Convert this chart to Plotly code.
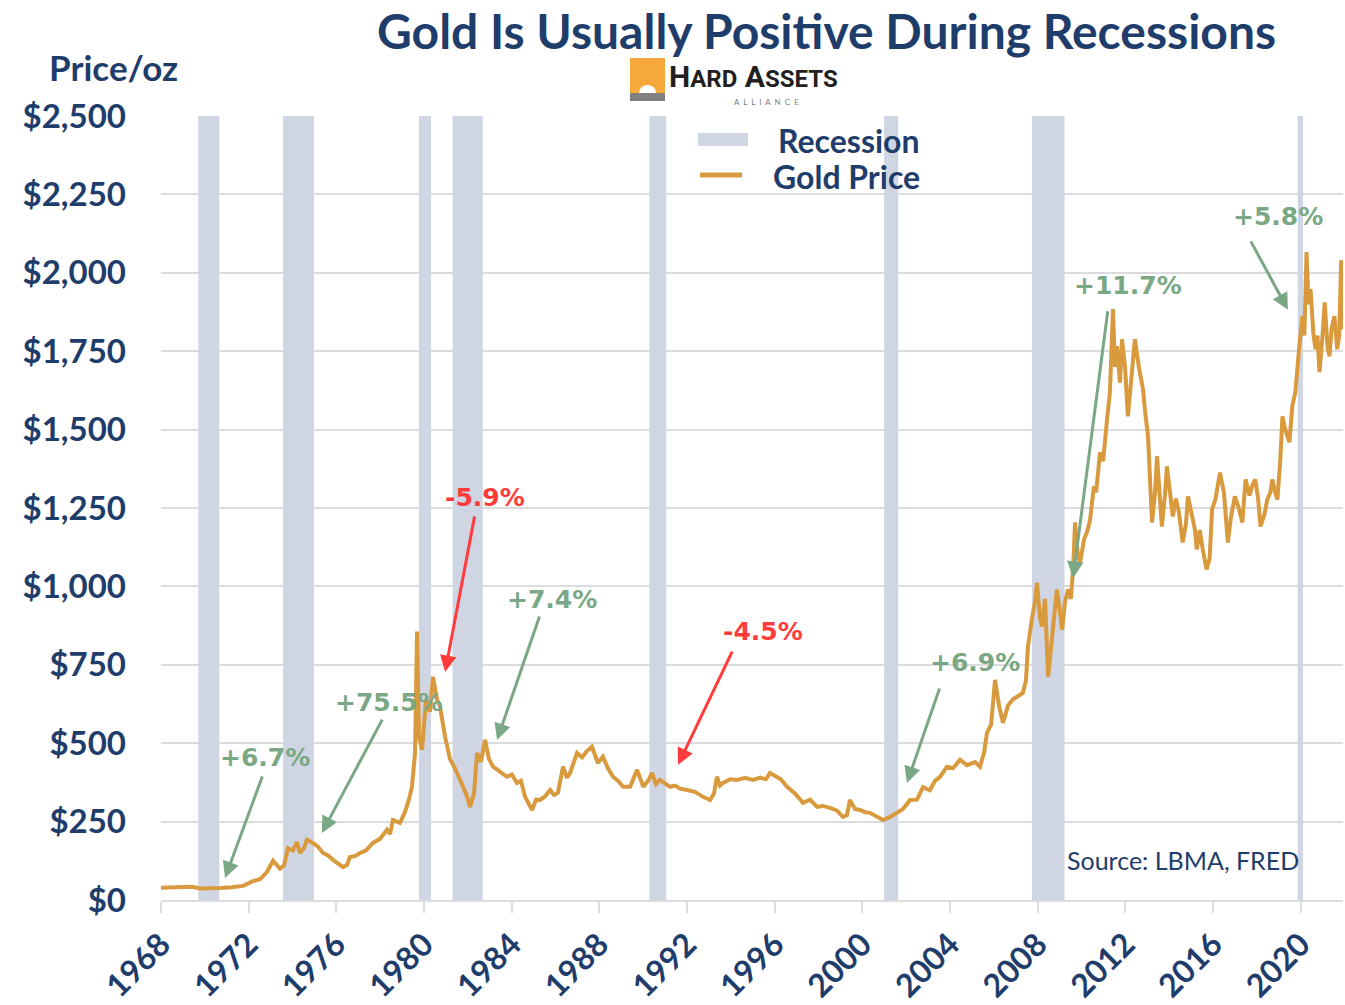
import plotly.graph_objects as go

# ---------------- data ----------------
# chart-time (decimal year on the chart's axis) and LBMA gold price, $/oz
gold_t = [1968.00, 1968.50, 1969.00, 1969.41, 1969.78, 1970.24, 1970.69, 1971.24, 1971.74, 1972.20,
          1972.52, 1972.84, 1973.11, 1973.43, 1973.61, 1973.79, 1974.02, 1974.20, 1974.34, 1974.52,
          1974.66, 1974.93, 1975.16, 1975.39, 1975.62, 1975.85, 1976.07, 1976.30, 1976.49, 1976.62,
          1976.85, 1977.08, 1977.35, 1977.67, 1977.99, 1978.31, 1978.45, 1978.58, 1978.90, 1979.13,
          1979.31, 1979.45, 1979.59, 1979.68, 1979.77, 1979.91, 1980.09, 1980.27, 1980.41, 1980.59,
          1980.73, 1980.96, 1981.18, 1981.41, 1981.78, 1981.96, 1982.10, 1982.28, 1982.42, 1982.60,
          1982.78, 1982.96, 1983.15, 1983.47, 1983.78, 1984.01, 1984.24, 1984.42, 1984.61, 1984.93,
          1985.11, 1985.29, 1985.52, 1985.75, 1985.93, 1986.11, 1986.34, 1986.52, 1986.66, 1986.98,
          1987.21, 1987.43, 1987.66, 1987.93, 1988.16, 1988.39, 1988.62, 1988.85, 1989.08, 1989.40,
          1989.72, 1990.00, 1990.22, 1990.40, 1990.58, 1990.76, 1990.99, 1991.22, 1991.45, 1991.68,
          1992.00, 1992.36, 1992.73, 1993.05, 1993.23, 1993.36, 1993.50, 1993.64, 1993.96, 1994.28,
          1994.64, 1995.01, 1995.33, 1995.60, 1995.78, 1996.01, 1996.28, 1996.56, 1996.92, 1997.29,
          1997.61, 1997.93, 1998.20, 1998.52, 1998.84, 1999.11, 1999.29, 1999.43, 1999.66, 1999.89,
          2000.12, 2000.34, 2000.66, 2000.94, 2001.26, 2001.58, 2001.85, 2002.17, 2002.49, 2002.76,
          2003.08, 2003.31, 2003.54, 2003.86, 2004.13, 2004.45, 2004.77, 2005.14, 2005.36, 2005.55,
          2005.68, 2005.87, 2006.05, 2006.23, 2006.41, 2006.64, 2006.87, 2007.05, 2007.32, 2007.46,
          2007.55, 2007.74, 2007.87, 2007.96, 2008.10, 2008.19, 2008.33, 2008.47, 2008.60, 2008.74,
          2008.87, 2009.01, 2009.11, 2009.24, 2009.38, 2009.51, 2009.61, 2009.70, 2009.83, 2009.93,
          2010.11, 2010.24, 2010.38, 2010.56, 2010.66, 2010.84, 2010.98, 2011.16, 2011.29, 2011.43,
          2011.52, 2011.61, 2011.75, 2011.84, 2011.98, 2012.11, 2012.25, 2012.43, 2012.61, 2012.80,
          2012.89, 2013.03, 2013.21, 2013.35, 2013.44, 2013.57, 2013.66, 2013.80, 2013.89, 2014.03,
          2014.16, 2014.30, 2014.43, 2014.61, 2014.76, 2014.85, 2015.04, 2015.17, 2015.25, 2015.39,
          2015.52, 2015.70, 2015.84, 2015.95, 2016.11, 2016.31, 2016.49, 2016.67, 2016.81, 2016.99,
          2017.17, 2017.33, 2017.48, 2017.66, 2017.78, 2017.92, 2018.05, 2018.16, 2018.34, 2018.47,
          2018.61, 2018.70, 2018.83, 2018.93, 2019.06, 2019.16, 2019.29, 2019.48, 2019.61, 2019.75,
          2019.93, 2020.07, 2020.16, 2020.26, 2020.35, 2020.44, 2020.58, 2020.67, 2020.76, 2020.85,
          2020.99, 2021.09, 2021.22, 2021.31, 2021.40, 2021.53, 2021.66, 2021.75, 2021.84, 2021.92]
gold_price = [39, 41, 43, 42, 37, 36, 38, 41, 45, 60,
              66, 90, 125, 100, 110, 165, 158, 185, 150, 165,
              192, 182, 170, 150, 142, 128, 118, 105, 112, 137,
              140, 150, 158, 182, 195, 224, 210, 255, 246, 280,
              320, 361, 469, 856, 520, 479, 640, 600, 712, 640,
              616, 520, 450, 420, 361, 330, 297, 340, 469, 440,
              511, 450, 425, 410, 393, 400, 373, 380, 329, 287,
              320, 319, 330, 351, 335, 342, 425, 390, 405, 469,
              455, 475, 489, 437, 457, 420, 393, 380, 361, 361,
              415, 361, 380, 405, 370, 383, 370, 361, 365, 355,
              351, 345, 329, 319, 340, 393, 365, 373, 385, 383,
              390, 383, 390, 385, 405, 395, 385, 361, 340, 310,
              320, 297, 300, 294, 285, 265, 270, 319, 290, 287,
              280, 278, 265, 255, 265, 278, 290, 319, 320, 360,
              350, 380, 393, 425, 420, 447, 430, 440, 425, 470,
              533, 560, 702, 620, 565, 620, 640, 648, 660, 700,
              808, 900, 950, 1012, 900, 872, 960, 712, 800, 900,
              990, 920, 862, 950, 990, 960, 1054, 1204, 1100, 1076,
              1150, 1172, 1210, 1319, 1300, 1427, 1400, 1533, 1619, 1884,
              1700, 1766, 1650, 1788, 1700, 1542, 1650, 1788, 1700, 1628,
              1560, 1478, 1204, 1300, 1415, 1300, 1191, 1290, 1383, 1300,
              1223, 1280, 1240, 1140, 1200, 1287, 1230, 1180, 1118, 1180,
              1120, 1054, 1090, 1245, 1280, 1363, 1300, 1140, 1220, 1287,
              1250, 1204, 1341, 1290, 1320, 1341, 1280, 1191, 1230, 1277,
              1300, 1341, 1300, 1277, 1400, 1542, 1500, 1459, 1574, 1620,
              1766, 1862, 1800, 2066, 1900, 1948, 1800, 1756, 1800, 1683,
              1800, 1906, 1760, 1734, 1820, 1862, 1756, 1800, 2040, 1820]

# recessions (chart-time start, end)
rec_start = [1969.70, 1973.57, 1979.77, 1981.30, 1990.28, 2000.99, 2007.73, 2019.86]
rec_end = [1970.66, 1974.98, 1980.32, 1982.68, 1991.05, 2001.63, 2009.22, 2020.10]

# annotations: label, tip (x, y), tail (x, y), label centre (x, y), colour
ann_label = ["+6.7%", "+75.5%", "-5.9%", "+7.4%", "-4.5%", "+6.9%", "+11.7%", "+5.8%"]
ann_tip_x = [1970.92, 1975.34, 1980.96, 1983.33, 1991.59, 2002.03, 2009.61, 2019.41]
ann_tip_y = [70, 214, 727, 510, 431, 373, 1027, 1882]
ann_tail_x = [1972.65, 1978.13, 1982.32, 1985.29, 1994.09, 2003.54, 2011.20, 2017.68]
ann_tail_y = [399, 580, 1228, 909, 797, 679, 1882, 2105]
ann_text_x = [1972.74, 1978.40, 1982.78, 1985.84, 1995.46, 2005.13, 2012.12, 2018.96]
ann_text_y = [453, 631, 1285, 957, 855, 756, 1958, 2181]
ann_positive = [True, True, False, True, False, True, True, True]

x_ticks = list(range(1968, 2021, 4))
y_ticks = [0, 250, 500, 750, 1000, 1250, 1500, 1750, 2000, 2250, 2500]

# ---------------- styling ----------------
NAVY = "#1f3d6b"
GOLD = "#d99a3e"
BAND = "#d0d5e3"
GRID = "#dcdcdc"
GREEN = "#7aa884"
RED = "#ff3b3b"
FONT = "Lato, 'Open Sans', sans-serif"
ANNFONT = "'DejaVu Sans', Verdana, sans-serif"

W, H = 1345, 1005
PL, PR, PT, PB = 161, 1343, 116, 900   # plot area in page pixels
X0 = 1968.0
X1 = X0 + (PR - PL) / 21.92


def px(xp):
    return (xp - PL) / (PR - PL)


def py(yp):
    return (PB - yp) / (PB - PT)


fig = go.Figure()

fig.add_trace(go.Scatter(x=gold_t, y=gold_price, mode="lines",
                         line=dict(color=GOLD, width=4), name="Gold Price",
                         showlegend=False, hoverinfo="skip"))

shapes = []
for s, e in zip(rec_start, rec_end):
    shapes.append(dict(type="rect", xref="x", yref="y", x0=s, x1=e, y0=0, y1=2500,
                       fillcolor=BAND, line=dict(width=0), layer="between"))

# legend (manual)
shapes.append(dict(type="rect", xref="paper", yref="paper", x0=px(698), x1=px(748),
                   y0=py(146), y1=py(133), fillcolor=BAND, line=dict(width=0)))
shapes.append(dict(type="line", xref="paper", yref="paper", x0=px(700), x1=px(742),
                   y0=py(175), y1=py(175), line=dict(color=GOLD, width=5)))

# logo
shapes.append(dict(type="rect", xref="paper", yref="paper", x0=px(630), x1=px(665),
                   y0=py(93), y1=py(58), fillcolor="#f7a83a", line=dict(width=0)))
shapes.append(dict(type="circle", xref="paper", yref="paper", x0=px(639), x1=px(656),
                   y0=py(101), y1=py(85), fillcolor="white", line=dict(width=0)))
shapes.append(dict(type="rect", xref="paper", yref="paper", x0=px(630), x1=px(665),
                   y0=py(101), y1=py(93), fillcolor="#808080", line=dict(width=0)))

annotations = []
annotations.append(dict(text="<b>Gold Is Usually Positive During Recessions</b>",
                        xref="paper", yref="paper", x=px(826), y=py(30),
                        xanchor="center", yanchor="middle", showarrow=False,
                        font=dict(family=FONT, size=48, color=NAVY)))
annotations.append(dict(text="<b>Price/oz</b>", xref="paper", yref="paper",
                        x=px(113), y=py(67), xanchor="center", yanchor="middle",
                        showarrow=False, font=dict(family=FONT, size=35, color=NAVY)))
annotations.append(dict(text="<b>H<span style='font-size:24px'>ARD</span> A<span style='font-size:24px'>SSETS</span></b>",
                        xref="paper", yref="paper", x=px(667), y=py(76),
                        xanchor="left", yanchor="middle", showarrow=False,
                        font=dict(family="'Liberation Sans Narrow', 'Roboto', sans-serif", size=30, color="#231f20")))
annotations.append(dict(text="A  L  L  I  A  N  C  E", xref="paper", yref="paper",
                        x=px(766), y=py(102), xanchor="center", yanchor="middle",
                        showarrow=False, font=dict(family=FONT, size=8, color="#808080")))
annotations.append(dict(text="<b>Recession</b>", xref="paper", yref="paper",
                        x=px(922), y=py(140), xanchor="right", yanchor="middle",
                        showarrow=False, font=dict(family=FONT, size=32, color=NAVY)))
annotations.append(dict(text="<b>Gold Price</b>", xref="paper", yref="paper",
                        x=px(922), y=py(177), xanchor="right", yanchor="middle",
                        showarrow=False, font=dict(family=FONT, size=32, color=NAVY)))
annotations.append(dict(text="Source: LBMA, FRED", xref="paper", yref="paper",
                        x=px(1301), y=py(860), xanchor="right", yanchor="middle",
                        showarrow=False, font=dict(family=FONT, size=25, color=NAVY)))

for i, lab in enumerate(ann_label):
    col = GREEN if ann_positive[i] else RED
    annotations.append(dict(text="", x=ann_tip_x[i], y=ann_tip_y[i], xref="x", yref="y",
                            ax=ann_tail_x[i], ay=ann_tail_y[i], axref="x", ayref="y",
                            showarrow=True, arrowhead=2, arrowsize=1.1, arrowwidth=3,
                            arrowcolor=col))
    annotations.append(dict(text="<b>" + lab + "</b>", x=ann_text_x[i], y=ann_text_y[i],
                            xref="x", yref="y", showarrow=False, xanchor="center",
                            yanchor="middle", font=dict(family=ANNFONT, size=25, color=col)))

fig.update_layout(
    width=W, height=H,
    margin=dict(l=PL, r=W - PR, t=PT, b=H - PB),
    paper_bgcolor="white", plot_bgcolor="white",
    shapes=shapes, annotations=annotations,
    showlegend=False,
    xaxis=dict(range=[X0, X1], tickmode="array", tickvals=x_ticks,
               ticktext=["<b>%d</b>" % v for v in x_ticks], tickangle=-45,
               showgrid=False, zeroline=False, showline=True, linecolor=GRID,
               linewidth=2, ticks="outside", ticklen=11, tickcolor=GRID, tickwidth=2,
               tickfont=dict(family=FONT, size=32, color=NAVY), fixedrange=True),
    yaxis=dict(range=[0, 2500], tickmode="array", tickvals=y_ticks,
               ticktext=["<b>$" + format(v, ",") + "</b>" for v in y_ticks],
               showgrid=True, gridcolor=GRID, gridwidth=2,
               zeroline=False, showline=False, ticks="", ticklabelstandoff=34,
               tickfont=dict(family=FONT, size=33, color=NAVY), fixedrange=True),
)

fig.write_html("out.html", config={"displayModeBar": False},
               post_script="document.body.style.margin='0';")
